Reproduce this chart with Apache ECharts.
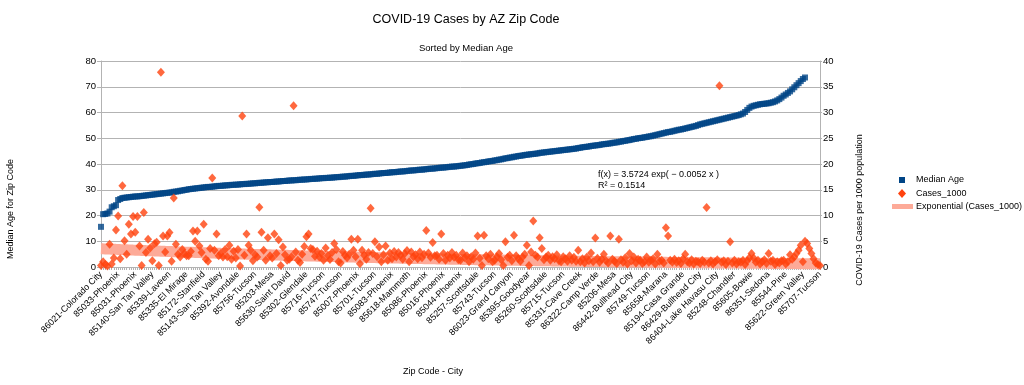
<!DOCTYPE html>
<html>
<head>
<meta charset="utf-8">
<script src="https://cdn.jsdelivr.net/npm/echarts@6/dist/echarts.min.js"></script>
<style>
html,body{margin:0;padding:0;background:#fff;}
#chart{width:1024px;height:385px;}
</style>
</head>
<body>
<div id="chart"></div>
<script>
// Visible x-axis labels (every 8th zip code)
const zipLabels = ["86021-Colorado City","85033-Phoenix","85031-Phoenix","85140-San Tan Valley","85339-Laveen","85335-El Mirage","85172-Stanfield","85143-San Tan Valley","85392-Avondale","85756-Tucson","85203-Mesa","85630-Saint David","85302-Glendale","85716-Tucson","85747-Tucson","85007-Phoenix","85701-Tucson","85083-Phoenix","85618-Mammoth","85086-Phoenix","85016-Phoenix","85044-Phoenix","85257-Scottsdale","85743-Tucson","86023-Grand Canyon","85395-Goodyear","85260-Scottsdale","85715-Tucson","85331-Cave Creek","86322-Camp Verde","85206-Mesa","86442-Bullhead City","85749-Tucson","85658-Marana","85194-Casa Grande","86429-Bullhead City","86404-Lake Havasu City","85248-Chandler","85605-Bowie","86351-Sedona","85544-Pine","85622-Green Valley","85707-Tucson"];
const labelStep = 8;

// Median age per zip code (sorted)
const medianAge = [
15.6,20.5,20.6,20.8,21.5,23.2,23.6,24.0,26.0,26.4,
26.8,26.9,27.0,27.1,27.2,27.3,27.4,27.4,27.5,27.6,
27.7,27.8,27.9,28.0,28.1,28.2,28.3,28.4,28.5,28.6,
28.7,28.8,28.9,29.0,29.2,29.3,29.4,29.6,29.7,29.9,
30.0,30.2,30.3,30.4,30.5,30.6,30.7,30.8,30.9,31.0,
31.1,31.1,31.2,31.3,31.4,31.5,31.5,31.6,31.7,31.7,
31.8,31.9,31.9,32.0,32.0,32.1,32.2,32.2,32.3,32.3,
32.4,32.5,32.5,32.6,32.7,32.7,32.8,32.9,32.9,33.0,
33.0,33.1,33.2,33.2,33.3,33.4,33.4,33.5,33.6,33.6,
33.7,33.7,33.8,33.9,33.9,34.0,34.0,34.1,34.2,34.2,
34.3,34.3,34.4,34.5,34.5,34.6,34.6,34.7,34.7,34.8,
34.9,34.9,35.0,35.1,35.1,35.2,35.3,35.4,35.4,35.5,
35.6,35.7,35.7,35.8,35.9,35.9,36.0,36.1,36.2,36.2,
36.3,36.4,36.5,36.5,36.6,36.7,36.8,36.8,36.9,37.0,
37.1,37.1,37.2,37.3,37.4,37.5,37.5,37.6,37.7,37.8,
37.8,37.9,38.0,38.1,38.2,38.2,38.3,38.4,38.5,38.6,
38.6,38.7,38.8,38.9,39.0,39.0,39.1,39.2,39.3,39.4,
39.5,39.6,39.8,39.9,40.0,40.2,40.3,40.4,40.6,40.7,
40.8,41.0,41.1,41.2,41.4,41.5,41.7,41.8,42.0,42.2,
42.3,42.5,42.6,42.8,42.9,43.1,43.2,43.3,43.5,43.6,
43.7,43.8,43.9,44.0,44.1,44.3,44.4,44.5,44.6,44.7,
44.8,44.9,45.0,45.1,45.2,45.3,45.4,45.5,45.6,45.7,
45.8,45.9,46.0,46.2,46.3,46.5,46.6,46.7,46.8,47.0,
47.1,47.2,47.3,47.4,47.6,47.7,47.8,47.9,48.0,48.2,
48.3,48.4,48.6,48.7,48.9,49.0,49.2,49.3,49.5,49.7,
49.8,50.0,50.1,50.2,50.4,50.5,50.7,50.8,51.0,51.2,
51.4,51.6,51.8,52.0,52.2,52.4,52.5,52.7,52.9,53.1,
53.3,53.4,53.6,53.8,54.0,54.2,54.4,54.6,54.8,55.1,
55.4,55.6,55.8,56.0,56.2,56.4,56.6,56.8,57.0,57.2,
57.4,57.6,57.8,58.0,58.2,58.4,58.6,58.8,59.0,59.3,
59.6,60.2,61.0,61.8,62.3,62.6,62.8,63.0,63.2,63.3,
63.4,63.5,63.6,63.8,64.0,64.3,64.7,65.2,65.8,66.5,
67.0,67.6,68.2,69.0,69.8,70.6,71.4,72.2,73.0,73.6,
null,null,null,null,null,null,null
];

// COVID-19 cases per 1000 population
const cases1000 = [
0.3,1.0,0.5,0.2,4.4,0.6,1.75,7.2,9.9,1.6,
15.8,5.1,2.5,8.3,6.4,9.8,6.75,9.8,4.1,0.3,
10.6,2.8,5.4,3.7,1.2,4.5,4.8,0.3,37.8,6.0,
2.9,6.0,6.7,1.1,13.4,4.4,2.5,1.95,3.4,2.6,
2.2,2.2,3.0,7.0,5.0,7.0,4.1,2.8,8.3,1.5,
1.1,3.6,17.3,3.25,6.4,2.2,2.6,1.95,3.4,2.0,
4.2,1.5,3.05,1.75,3.4,0.2,29.3,2.3,6.4,4.2,
3.25,1.2,2.4,1.95,11.6,6.75,3.25,1.3,5.7,2.2,
1.75,6.4,2.6,5.3,0.3,3.9,2.4,1.3,1.5,2.0,
31.3,2.9,1.3,0.85,2.5,4.0,5.85,6.4,3.6,3.4,
2.1,3.05,1.95,2.6,1.3,3.7,2.2,1.45,2.8,4.55,
3.4,1.0,0.8,3.0,2.3,1.8,2.5,5.4,3.25,2.0,
5.4,0.65,3.25,2.3,1.5,2.8,11.4,2.6,4.9,2.0,
3.9,1.0,2.4,4.1,1.3,2.7,1.6,3.0,1.95,2.8,
2.3,1.5,2.6,3.2,1.0,2.9,2.0,2.4,1.6,2.9,
1.8,2.5,7.1,2.7,1.9,4.75,2.2,2.3,1.5,6.4,
2.6,1.3,2.3,1.75,2.8,1.9,2.3,1.4,1.3,2.7,
1.8,2.2,1.0,2.0,1.5,2.7,6.0,1.7,0.3,6.15,
2.2,1.6,2.5,1.0,1.3,2.0,2.6,1.4,0.3,4.9,
1.9,2.3,1.2,6.15,2.2,1.6,1.1,1.95,2.5,4.2,
0.3,2.9,8.95,2.3,1.95,5.7,3.6,1.4,1.95,2.3,
1.3,2.0,1.6,2.4,1.2,1.0,2.0,1.6,1.1,2.2,
1.3,1.9,1.1,3.25,1.0,1.6,0.8,1.9,1.2,2.7,
1.0,5.65,1.7,0.9,1.5,2.5,1.2,0.8,6.0,1.5,
1.1,0.7,5.4,1.4,0.9,1.8,0.6,2.6,1.2,1.95,
0.8,1.5,1.3,0.7,1.0,1.95,0.9,1.3,1.6,0.6,
2.5,1.1,1.3,0.8,7.6,6.0,1.3,0.9,1.5,0.85,
1.2,0.7,1.6,2.5,1.0,0.8,1.4,0.6,1.1,1.0,
0.7,1.3,0.9,11.55,0.8,1.2,0.6,1.0,1.4,35.2,
0.9,1.2,0.5,1.1,4.9,0.8,1.3,0.6,1.0,0.9,
1.3,0.5,1.2,1.8,2.6,1.75,0.9,1.3,0.6,1.0,
1.4,0.7,2.6,1.1,1.3,0.5,1.0,0.8,1.2,1.3,
0.6,1.0,2.4,1.5,1.95,2.6,3.25,4.2,1.0,5.0,
4.55,3.6,2.6,1.6,0.8,0.5,0.3
];

// Exponential trend shown on the chart: f(x) = 3.5724 exp(-0.0052 x)
const trendA = 3.5724;
const trendB = -0.0052;
const trendText = ["f(x) = 3.5724 exp( \u2212 0.0052 x )", "R\u00b2 = 0.1514"];

const categories = cases1000.map((_, i) => String(i + 1));
const trend = categories.map((c) => +(trendA * Math.exp(trendB * Number(c))).toFixed(4));

const FONT = '"Liberation Sans", Arial, sans-serif';
const SMALL = '9px ' + FONT;
const chart = echarts.init(document.getElementById('chart'));
chart.setOption({
  animation: false,
  backgroundColor: '#fff',
  textStyle: { fontFamily: FONT },
  title: [
    { text: 'COVID-19 Cases by AZ Zip Code', left: 461, top: 8, textAlign: 'center',
      textStyle: { fontFamily: FONT, fontSize: 12.5, fontWeight: 'normal', color: '#000' } },
    { text: 'Sorted by Median Age', left: 461, top: 38, textAlign: 'center',
      textStyle: { fontFamily: FONT, fontSize: 9.5, fontWeight: 'normal', color: '#000' } }
  ],
  grid: { left: 101, right: 204, top: 61, bottom: 118, containLabel: false },
  xAxis: {
    type: 'category',
    data: categories,
    boundaryGap: false,
    axisLine: { lineStyle: { color: '#b3b3b3' } },
    axisTick: { show: true, interval: 0, length: 3, lineStyle: { color: '#b3b3b3' } },
    axisLabel: {
      interval: labelStep - 1, rotate: 45, margin: 6,
      fontFamily: FONT, fontSize: 9, color: '#000',
      formatter: (v, i) => (i % labelStep === 0 ? (zipLabels[i / labelStep] || '') : '')
    },
    splitLine: { show: false }
  },
  yAxis: [
    { type: 'value', min: 0, max: 80, interval: 10,
      axisLine: { show: true, lineStyle: { color: '#b3b3b3' } },
      axisTick: { show: true, length: 4, lineStyle: { color: '#b3b3b3' } },
      axisLabel: { fontFamily: FONT, fontSize: 9.5, color: '#000', margin: 5 },
      splitLine: { show: true, lineStyle: { color: '#b3b3b3' } } },
    { type: 'value', min: 0, max: 40, interval: 5, position: 'right',
      axisLine: { show: true, lineStyle: { color: '#b3b3b3' } },
      axisTick: { show: true, length: 2, lineStyle: { color: '#b3b3b3' } },
      axisLabel: { fontFamily: FONT, fontSize: 9.5, color: '#000', margin: 3 },
      splitLine: { show: false } }
  ],
  series: [
    { name: 'Exponential (Cases_1000)', type: 'line', yAxisIndex: 1, data: trend,
      showSymbol: false, symbol: 'none', z: 1,
      lineStyle: { color: '#fdaa98', width: 11, cap: 'butt' } },
    { name: 'Median Age', type: 'scatter', yAxisIndex: 0, data: medianAge,
      symbol: 'rect', symbolSize: 6, z: 2,
      itemStyle: { color: '#004586' } },
    { name: 'Cases_1000', type: 'scatter', yAxisIndex: 1, data: cases1000,
      symbol: 'diamond', symbolSize: [8, 9], z: 3,
      itemStyle: { color: '#ff420e' } }
  ],
  graphic: [
    { type: 'text', rotation: Math.PI / 2, x: 11, y: 209,
      style: { text: 'Median Age for Zip Code', fill: '#000', font: SMALL, textAlign: 'center', textVerticalAlign: 'middle' } },
    { type: 'text', rotation: Math.PI / 2, x: 860, y: 210,
      style: { text: 'COVID-19 Cases per 1000 population', fill: '#000', font: SMALL, textAlign: 'center', textVerticalAlign: 'middle' } },
    { type: 'text', x: 433, y: 372,
      style: { text: 'Zip Code - City', fill: '#000', font: SMALL, textAlign: 'center', textVerticalAlign: 'middle' } },
    { type: 'text', x: 598, y: 175,
      style: { text: trendText[0], fill: '#000', font: SMALL, textAlign: 'left', textVerticalAlign: 'middle' } },
    { type: 'text', x: 598, y: 185.5,
      style: { text: trendText[1], fill: '#000', font: SMALL, textAlign: 'left', textVerticalAlign: 'middle' } },
    // legend
    { type: 'rect', shape: { x: 899, y: 177, width: 6, height: 6 }, style: { fill: '#004586' } },
    { type: 'text', x: 916, y: 180, style: { text: 'Median Age', fill: '#000', font: SMALL, textVerticalAlign: 'middle' } },
    { type: 'polygon', shape: { points: [[902, 189], [906, 193.5], [902, 198], [898, 193.5]] }, style: { fill: '#ff420e' } },
    { type: 'text', x: 916, y: 193.5, style: { text: 'Cases_1000', fill: '#000', font: SMALL, textVerticalAlign: 'middle' } },
    { type: 'rect', shape: { x: 892, y: 204, width: 21, height: 5 }, style: { fill: '#fdaa98' } },
    { type: 'text', x: 916, y: 206.5, style: { text: 'Exponential (Cases_1000)', fill: '#000', font: SMALL, textVerticalAlign: 'middle' } }
  ]
});
</script>
</body>
</html>
